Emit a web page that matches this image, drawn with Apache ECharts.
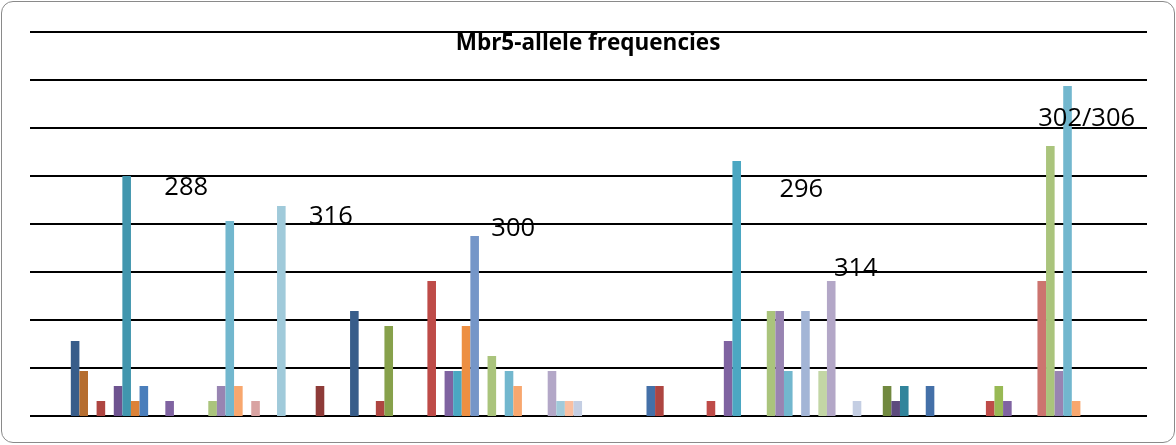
<!DOCTYPE html>
<html>
<head>
<meta charset="utf-8">
<script src="https://cdn.jsdelivr.net/npm/echarts@6/dist/echarts.min.js"></script>
<style>
  html, body { margin: 0; padding: 0; background: #fff; }
  #wrap { position: relative; width: 1176px; height: 445px; }
  #chart { position: absolute; left: 0; top: 0; width: 1176px; height: 445px; }
  #frame { position: absolute; left: 1px; top: 1px; width: 1174px; height: 442px; box-sizing: border-box;
           border: 1.5px solid #8a8a8a; border-radius: 12px; pointer-events: none; }
</style>
</head>
<body>
<div id="wrap"><div id="chart"></div><div id="frame"></div></div>
<script>
// ---- data (allele counts per group, 31 series each) ----
const categories = ['Group 1', 'Group 2', 'Group 3', 'Group 4'];
const group1Counts = [0,0,0,0,5,3,0,1,0,2,16,1,2,0,0,1,0,0,0,0,1,2,13,2,0,1,0,0,14,0,0];
const group2Counts = [2,0,0,0,7,0,0,1,6,0,0,0,0,9,0,3,3,6,12,0,4,0,3,2,0,0,0,3,1,1,1];
const group3Counts = [0,0,0,0,0,0,2,2,0,0,0,0,0,1,0,5,17,0,0,0,7,7,3,0,7,0,3,9,0,0,1];
const group4Counts = [0,2,1,2,0,0,2,0,0,0,0,0,0,1,2,1,0,0,0,9,18,3,22,1,0,0,0,0,0,0,0];
const titleText = 'Mbr5-allele frequencies';
// annotation texts anchored to a bar: [text, groupIndex, seriesIndex]
const annotations = [
  ['288', 0, 10],
  ['316', 0, 28],
  ['300', 1, 18],
  ['296', 2, 16],
  ['314', 2, 27],
  ['302/306', 3, 22]
];

// ---- styles ----
const seriesColors = [
  '#8E3B38','#71893F','#5D4A7D','#31849B','#385D8A','#B56D2F','#4470A8','#AE4541',
  '#87A14B','#6E5390','#4196AE','#DC8237','#4A7EBB','#BE4B48','#98B954','#7F63A1',
  '#4BA7C2','#ED8F42','#7596C8','#CC746F','#AAC47C','#9884B2','#72B7CE','#F8A76E',
  '#A3B5D6','#D9A3A2','#C3D6A5','#B3A7C7','#A0CADA','#F9BFA1','#C4CEE3'
];
// label offsets relative to the anchor bar's top-left corner (px)
const annotationOffsets = [[42,-1],[32,-2],[21,-20],[47,16],[7,-25],[-25,20]];

const groups = [group1Counts, group2Counts, group3Counts, group4Counts];
const series = seriesColors.map((color, s) => {
  const data = groups.map((g, c) => {
    const v = g[s];
    const ai = annotations.findIndex(a => a[1] === c && a[2] === s);
    if (ai >= 0) {
      return {
        value: v,
        label: {
          show: true,
          formatter: annotations[ai][0],
          position: annotationOffsets[ai],
          fontFamily: 'Open Sans',
          fontSize: 25.5,
          color: '#000'
        }
      };
    }
    return v === 0 ? '-' : v;
  });
  return {
    type: 'bar',
    name: 'S' + (s + 1),
    data: data,
    barGap: '0%',
    barCategoryGap: '4.615%',
    itemStyle: { color: color },
    label: { show: false },
    z: 3
  };
});

const chart = echarts.init(document.getElementById('chart'), null, { renderer: 'canvas' });
chart.setOption({
  animation: false,
  title: {
    text: titleText,
    left: 'center',
    top: 27,
    textStyle: { fontFamily: 'Open Sans', fontWeight: 'bold', fontSize: 22.5, color: '#000' }
  },
  grid: { left: 30, right: 29, top: 32, bottom: 29, containLabel: false },
  xAxis: {
    type: 'category',
    data: categories,
    axisLine: { show: false },
    axisTick: { show: false },
    axisLabel: { show: false },
    splitLine: { show: false }
  },
  yAxis: {
    type: 'value',
    min: 0,
    max: 25.6,
    interval: 3.2,
    axisLine: { show: false },
    axisTick: { show: false },
    axisLabel: { show: false },
    splitLine: { show: true, lineStyle: { color: '#000', width: 2 } }
  },
  series: series
});
</script>
</body>
</html>
